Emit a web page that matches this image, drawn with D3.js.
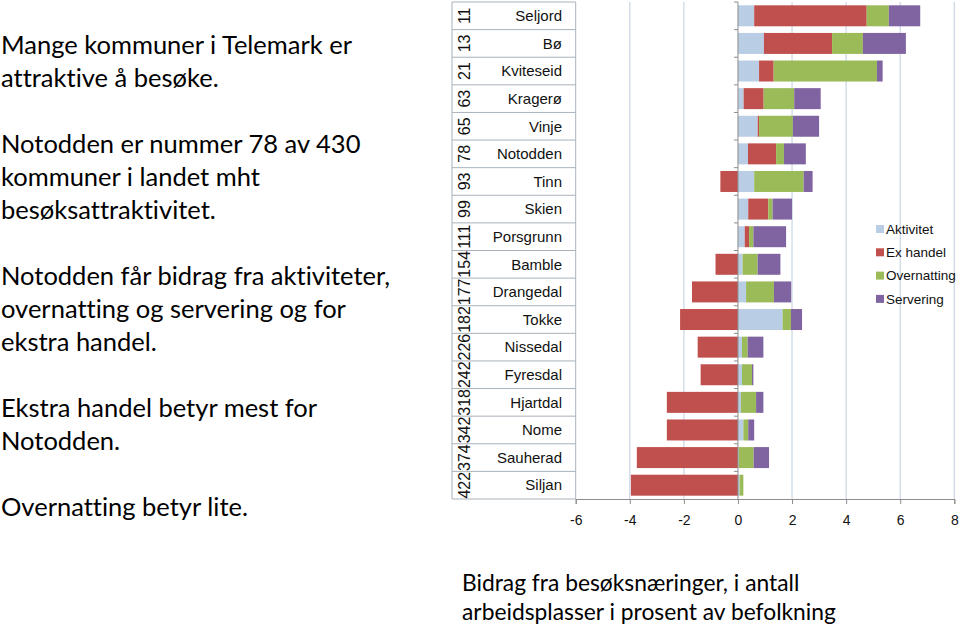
<!DOCTYPE html>
<html><head><meta charset="utf-8">
<script src="https://cdn.jsdelivr.net/npm/d3@7"></script>
<style>body{margin:0;background:#fff;}svg{display:block;} text{font-variant-ligatures:none;font-feature-settings:"liga" 0;}</style>
</head><body>
<script>
const kommuner = ["Seljord","Bø","Kviteseid","Kragerø","Vinje","Notodden","Tinn","Skien","Porsgrunn","Bamble","Drangedal","Tokke","Nissedal","Fyresdal","Hjartdal","Nome","Sauherad","Siljan"];
const rang = ["11","13","21","63","65","78","93","99","111","154","177","182","226","242","318","342","374","422"];
const aktivitet   = [0.60,0.96,0.78,0.21,0.73,0.37,0.60,0.38,0.25,0.17,0.30,1.65,0.15,0.15,0.11,0.20,0.03,0.06];
const exHandel    = [4.16,2.52,0.54,0.74,0.05,1.04,-0.65,0.74,0.16,-0.83,-1.70,-2.14,-1.49,-1.38,-2.63,-2.63,-3.74,-3.96];
const overnatting = [0.82,1.14,3.82,1.13,1.25,0.29,1.83,0.16,0.16,0.56,1.03,0.31,0.21,0.37,0.56,0.18,0.55,0.14];
const servering   = [1.16,1.59,0.21,0.98,0.97,0.81,0.33,0.72,1.21,0.84,0.64,0.41,0.58,0.05,0.27,0.22,0.57,0.00];
const seriesNames = ["Aktivitet","Ex handel","Overnatting","Servering"];
const xTicks = [-6,-4,-2,0,2,4,6,8];
const leftText = [
  ["Mange kommuner i Telemark er","attraktive å besøke."],
  ["Notodden er nummer 78 av 430","kommuner i landet mht","besøksattraktivitet."],
  ["Notodden får bidrag fra aktiviteter,","overnatting og servering og for","ekstra handel."],
  ["Ekstra handel betyr mest for","Notodden."],
  ["Overnatting betyr lite."]
];
const caption = ["Bidrag fra besøksnæringer, i antall","arbeidsplasser i prosent av befolkning"];

const colors = ["#b9cde5","#c0504d","#9bbb59","#8064a2"];
const W=960,H=624;
const svg = d3.select("body").append("svg").attr("width",W).attr("height",H);

const rows = kommuner.map((k,i)=>({k, r:rang[i], "Aktivitet":aktivitet[i], "Ex handel":exHandel[i], "Overnatting":overnatting[i], "Servering":servering[i]}));

const x = d3.scaleLinear().domain([-6,8]).range([575.7,954.3]);
const y = d3.scaleBand().domain(kommuner).range([2,499]).paddingInner(0.24).paddingOuter(0.12);
const yRow = d3.scaleBand().domain(kommuner).range([2,499]);

// gridlines
svg.append("g").selectAll("line").data(xTicks.filter(t=>t!==0 && t!==-6)).join("line")
  .attr("x1",d=>x(d)).attr("x2",d=>x(d)).attr("y1",2).attr("y2",499)
  .attr("stroke","#c8d6e4").attr("stroke-width",1.2);

// label table
const tbl = svg.append("g");
const tL = 452, tR = x(-6);
kommuner.forEach((k,i)=>{
  const y0 = yRow(k);
  tbl.append("line").attr("x1",tL).attr("x2",tR).attr("y1",y0+yRow.bandwidth()).attr("y2",y0+yRow.bandwidth()).attr("stroke","#a9b2bb").attr("stroke-width",1);
});
tbl.append("line").attr("x1",tL).attr("x2",tR).attr("y1",2).attr("y2",2).attr("stroke","#a9b2bb");
tbl.append("line").attr("x1",tL).attr("x2",tL).attr("y1",2).attr("y2",499).attr("stroke","#a9b2bb");
tbl.append("line").attr("x1",tR).attr("x2",tR).attr("y1",2).attr("y2",499).attr("stroke","#a9b2bb");
tbl.selectAll("text.name").data(rows).join("text").attr("class","name")
  .attr("x",562).attr("y",d=>yRow(d.k)+yRow.bandwidth()/2)
  .attr("dy","0.35em").attr("text-anchor","end")
  .style("font-family","'Liberation Sans',Arial,sans-serif").style("font-size","15px").attr("fill","#111")
  .text(d=>d.k);
tbl.selectAll("text.rang").data(rows).join("text").attr("class","rang")
  .attr("transform",d=>`translate(464,${yRow(d.k)+yRow.bandwidth()/2}) rotate(-90)`)
  .attr("dy","0.35em").attr("text-anchor","middle")
  .style("font-family","'Liberation Sans',Arial,sans-serif").style("font-size","16px").attr("fill","#111")
  .text(d=>d.r);

// bars
const stack = d3.stack().keys(seriesNames).offset(d3.stackOffsetDiverging);
const stacked = stack(rows);
svg.append("g").selectAll("g").data(stacked).join("g").attr("fill",(d,i)=>colors[i])
  .selectAll("rect").data(d=>d).join("rect")
  .attr("x",d=>x(Math.min(d[0],d[1]))).attr("width",d=>Math.abs(x(d[1])-x(d[0])))
  .attr("y",d=>y(d.data.k)).attr("height",y.bandwidth());

// y axis at zero
const ya = svg.append("g");
ya.append("line").attr("x1",x(0)).attr("x2",x(0)).attr("y1",2).attr("y2",499).attr("stroke","#8c8c8c");
ya.selectAll("line.t").data(kommuner).join("line").attr("class","t")
  .attr("x1",x(0)-4).attr("x2",x(0)).attr("y1",d=>yRow(d)).attr("y2",d=>yRow(d)).attr("stroke","#8c8c8c");

// x axis
const xa = svg.append("g").attr("transform","translate(0,499)")
  .call(d3.axisBottom(x).tickValues(xTicks).tickFormat(d=>String(d)).tickSize(5).tickPadding(11));
xa.select(".domain").attr("stroke","#8c8c8c");
xa.selectAll(".tick line").attr("stroke","#8c8c8c");
xa.selectAll("text").style("font-family","'Liberation Sans',Arial,sans-serif").style("font-size","14px").attr("fill","#111");

// legend
const lg = svg.append("g");
seriesNames.forEach((s,i)=>{
  const cy = 229 + i*23.3;
  lg.append("rect").attr("x",876).attr("y",cy-4).attr("width",8).attr("height",8).attr("fill",colors[i]);
  lg.append("text").attr("x",886).attr("y",cy).attr("dy","0.35em")
    .style("font-family","'Liberation Sans',Arial,sans-serif").style("font-size","13.5px").attr("fill","#111").text(s);
});

// left text
const lines = [];
let yy = 45;
leftText.forEach(par=>{ par.forEach(l=>{lines.push({l,y:yy}); yy+=33;}); yy+=33; });
svg.append("g").selectAll("text").data(lines).join("text")
  .attr("x",1).attr("y",d=>d.y).attr("dy","0.35em")
  .style("font-family","Lato,'Open Sans',sans-serif").style("font-size","25.5px").attr("fill","#000")
  .text(d=>d.l);

// caption
svg.append("g").selectAll("text").data(caption).join("text")
  .attr("x",462).attr("y",(d,i)=>583+i*29).attr("dy","0.35em")
  .style("font-family","Lato,'Open Sans',sans-serif").style("font-size","22.8px").attr("fill","#000")
  .text(d=>d);
</script>
</body></html>
